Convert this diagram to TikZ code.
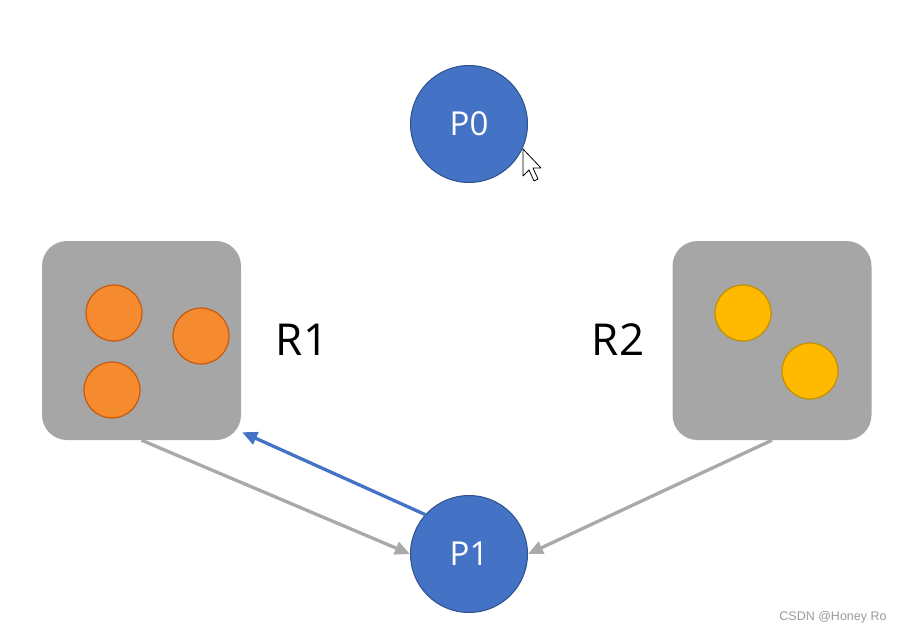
\documentclass[tikz,border=0pt]{standalone}
\usepackage{fontspec}
\setmainfont{Open Sans}
\usetikzlibrary{arrows.meta}

\definecolor{procblue}{HTML}{4472C4}
\definecolor{procline}{HTML}{2F528F}
\definecolor{resgray}{HTML}{A6A6A6}
\definecolor{edgegray}{HTML}{A9A9A9}
\definecolor{r1fill}{HTML}{F58A2E}
\definecolor{r1line}{HTML}{C55A11}
\definecolor{r2fill}{HTML}{FFBA00}
\definecolor{r2line}{HTML}{BF9000}

\begin{document}
\begin{tikzpicture}[x=1pt,y=-1pt,>={Triangle[length=15pt,width=13pt]},node distance=430pt,
	proc/.style={circle,draw=procline,line width=1pt,fill=procblue,minimum size=117pt,inner sep=0pt,
		text=white,font=\fontsize{33}{33}\selectfont},
	res/.style={rectangle,rounded corners=25pt,fill=resgray,minimum size=199pt,inner sep=0pt},
	inst/.style={circle,line width=1.2pt,minimum size=56pt,inner sep=0pt},
	lbl/.style={font=\fontsize{44}{44}\selectfont},
	req/.style={->,line width=3.3pt,draw=edgegray},
	alloc/.style={->,line width=3.3pt,draw=procblue}]
	\useasboundingbox (0,0) rectangle (903,635);

	\node[proc]         (P0) at (469,124) {P0};
	\node[proc]         (P1) [below of=P0] {P1};
	\node[res]          (R1) at (141.5,340.5) {};
	\node[res]          (R2) at (772,340.5) {};
	\node[lbl]          (l1) at (302,340) {R1};
	\node[lbl]          (l2) at (618,340) {R2};

	% instances of R1 and R2
	\node[inst,fill=r1fill,draw=r1line] (a1) at (114,313) {};
	\node[inst,fill=r1fill,draw=r1line] (a2) at (201,336) {};
	\node[inst,fill=r1fill,draw=r1line] (a3) at (112,390) {};
	\node[inst,fill=r2fill,draw=r2line] (b1) at (743,313) {};
	\node[inst,fill=r2fill,draw=r2line] (b2) at (810,371) {};

	\coordinate (t1) at ([shift={(1,-8)}]R1.south east);
	\draw[req]   (R1.south) -- (P1.west);
	\draw[req]   (R2.south) -- (P1.east);
	\draw[alloc] (P1.138) -- (t1);

	% mouse pointer
	\draw[fill=white,line width=0.8pt,line join=round]
		(523,149) -- (523,176) -- (529,170) -- (534,181) -- (538,179) -- (533,168) -- (541,168) -- cycle;

	\node[text=gray!80,font=\fontsize{12.5}{12.5}\selectfont\fontspec{Liberation Sans}] (wm) at (833,617) {CSDN @Honey Ro};
\end{tikzpicture}
\end{document}
